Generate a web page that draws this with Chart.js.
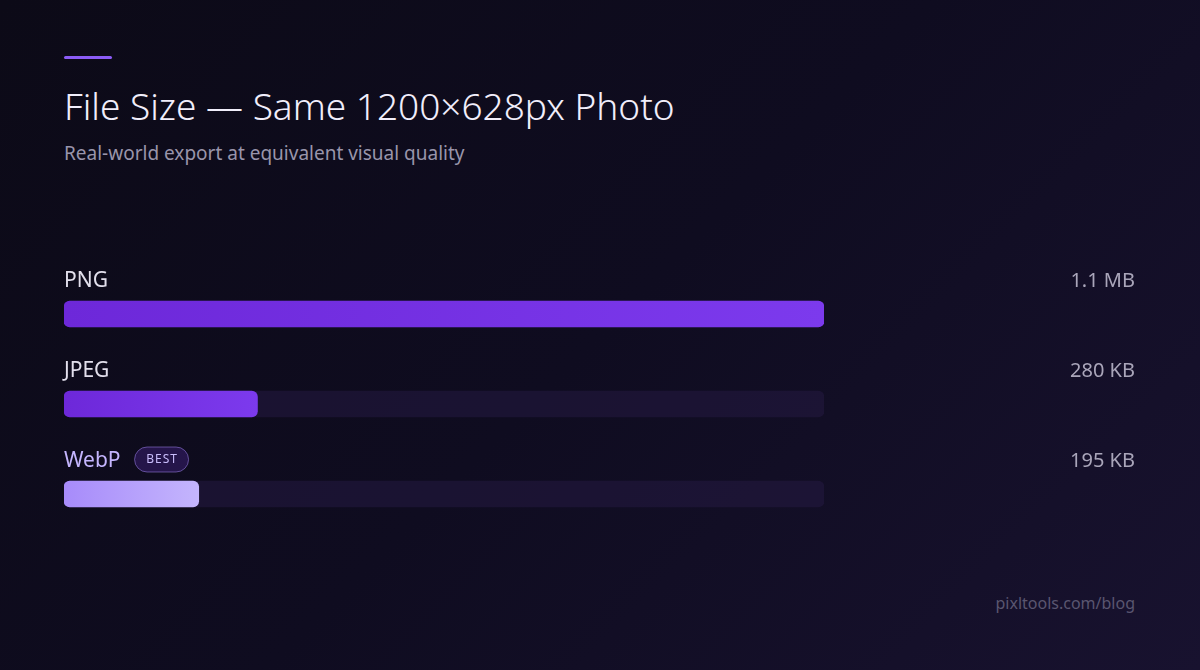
<!DOCTYPE html>
<html>
<head>
<meta charset="utf-8">
<script src="https://cdn.jsdelivr.net/npm/chart.js@4.4.1/dist/chart.umd.min.js"></script>
<style>
	html, body {
		margin: 0;
		padding: 0;
	}
	body {
		width: 1200px;
		height: 670px;
		overflow: hidden;
		position: relative;
		font-family: "Noto Sans", "Open Sans", sans-serif;
		background: linear-gradient(135deg, #0c0a17 0%, #0f0c20 50%, #18122f 100%);
	}
	.accent {
		position: absolute;
		left: 64px;
		top: 56px;
		width: 48px;
		height: 3px;
		border-radius: 2px;
		background: #8b5cf6;
	}
	h1 {
		position: absolute;
		left: 64px;
		top: 80px;
		margin: 0;
		font-size: 37px;
		font-weight: 300;
		color: #f1eefb;
		line-height: 52px;
		white-space: nowrap;
	}
	.sub {
		position: absolute;
		left: 64px;
		top: 140px;
		margin: 0;
		font-size: 19px;
		color: #9995ab;
		line-height: 26px;
	}
	.foot {
		position: absolute;
		right: 65px;
		top: 591px;
		font-size: 16px;
		color: #5a5670;
		line-height: 24px;
	}
	#chart {
		position: absolute;
		left: 0;
		top: 0;
	}
</style>
</head>
<body>
<div class="accent"></div>
<h1>File Size — Same 1200×628px Photo</h1>
<p class="sub">Real-world export at equivalent visual quality</p>
<div class="foot">pixltools.com/blog</div>
<canvas id="chart" width="1200" height="670"></canvas>
<script>
// sizes in KB
const formats = ['PNG', 'JPEG', 'WebP'];
const sizesKB = [1100, 280, 195];
const sizeLabels = ['1.1 MB', '280 KB', '195 KB'];
const badges = ['', '', 'BEST'];
const scaleMax = 1100;

const barColors = [
	['#6d28d9', '#7c3aed'],
	['#6d28d9', '#7c3aed'],
	['#a78bfa', '#c4b5fd']
];
const labelColors = ['#e2dfec', '#e2dfec', '#c4b5fd'];

const labelPlugin = {
	id: 'rowLabels',
	afterDatasetsDraw(chart) {
		const c = chart.ctx;
		const meta = chart.getDatasetMeta(1);
		const area = chart.chartArea;
		c.save();
		meta.data.forEach(function(bar, i) {
			const top = bar.y - bar.height / 2;
			const base = top - 14;
			c.font = '21px "Noto Sans", sans-serif';
			c.textAlign = 'left';
			c.textBaseline = 'alphabetic';
			c.fillStyle = labelColors[i];
			c.fillText(formats[i], area.left, base);

			if (badges[i]) {
				const w = c.measureText(formats[i]).width;
				const bx = area.left + w + 14;
				const by = base - 20;
				c.beginPath();
				c.roundRect(bx, by, 54, 25, 12.5);
				c.fillStyle = 'rgba(124, 58, 237, 0.22)';
				c.fill();
				c.strokeStyle = 'rgba(167, 139, 250, 0.5)';
				c.lineWidth = 1;
				c.stroke();
				c.font = '12px "Noto Sans", sans-serif';
				c.letterSpacing = '1px';
				c.fillStyle = '#c9bdfb';
				c.textAlign = 'center';
				c.textBaseline = 'middle';
				c.fillText(badges[i], bx + 27.5, by + 13);
				c.letterSpacing = '0px';
			}

			c.font = '20px "Noto Sans", sans-serif';
			c.textAlign = 'right';
			c.textBaseline = 'alphabetic';
			c.fillStyle = '#aaa6ba';
			c.fillText(sizeLabels[i], 1135, base);
		});
		c.restore();
	}
};

new Chart(document.getElementById('chart').getContext('2d'), {
	type: 'bar',
	data: {
		labels: formats,
		datasets: [{
			label: 'track',
			data: formats.map(function() { return scaleMax; }),
			backgroundColor: 'rgba(36, 26, 66, 0.55)',
			borderRadius: 6,
			borderSkipped: false,
			barThickness: 26,
			grouped: false,
			order: 2
		}, {
			label: 'size',
			data: sizesKB,
			backgroundColor: function(ctx) {
				const chart = ctx.chart;
				const cols = barColors[ctx.dataIndex] || barColors[0];
				if (!chart.chartArea || ctx.raw === undefined) {
					return cols[0];
				}
				const x = chart.scales.x;
				const x0 = x.getPixelForValue(0);
				const x1 = x.getPixelForValue(ctx.raw);
				const g = chart.ctx.createLinearGradient(x0, 0, x1, 0);
				g.addColorStop(0, cols[0]);
				g.addColorStop(1, cols[1]);
				return g;
			},
			borderRadius: 6,
			borderSkipped: false,
			barThickness: 26,
			grouped: false,
			order: 1
		}]
	},
	options: {
		indexAxis: 'y',
		responsive: false,
		animation: false,
		devicePixelRatio: 1,
		layout: {
			padding: { left: 64, right: 376, top: 269, bottom: 131 }
		},
		scales: {
			x: { display: false, min: 0, max: scaleMax },
			y: { display: false }
		},
		plugins: {
			legend: { display: false },
			tooltip: { enabled: false }
		}
	},
	plugins: [labelPlugin]
});
</script>
</body>
</html>
